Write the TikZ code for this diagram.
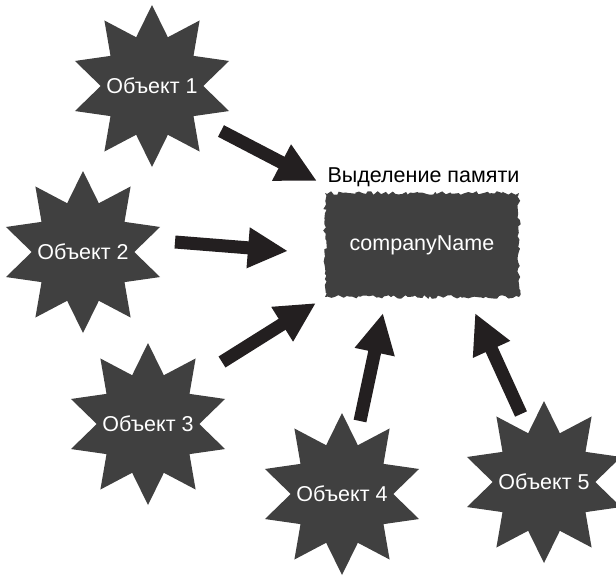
\documentclass[tikz,border=0pt]{standalone}
\usepackage{fontspec}
\setmainfont{Liberation Sans}
\usetikzlibrary{shapes.geometric,arrows.meta,decorations.pathmorphing}
\definecolor{starfill}{HTML}{404040}
\definecolor{arrowc}{HTML}{231F20}
\newcommand{\zw}[1]{\makebox[0pt]{#1}}
\tikzset{
  obj/.style={shape=star, star points=10, star point ratio=1.58, minimum size=162pt,
    inner sep=0pt, fill=starfill, text=white, font=\fontsize{21.5}{24}\selectfont},
  mem/.style={rectangle, minimum width=194pt, minimum height=104pt, fill=starfill,
    text=white, font=\fontsize{21.5}{24}\selectfont, decorate,
    decoration={random steps, segment length=3pt, amplitude=1.8pt}},
  lbl/.style={font=\fontsize{21.5}{24}\selectfont, text=black, inner sep=0pt},
  bigarrow/.style={draw=arrowc, line width=13pt, -{Triangle[length=40pt,width=38pt]}}
}
\begin{document}
\pgfmathsetseed{7}
\begin{tikzpicture}[x=1pt,y=-1pt]
\useasboundingbox (0,0) rectangle (616,576);
\node[obj] (o1) at (152,86) {\zw{Объект 1}};
\node[obj] (o2) at (83,252) {\zw{Объект 2}};
\node[obj] (o3) at (148,424) {\zw{Объект 3}};
\node[obj] (o4) at (342,494) {\zw{Объект 4}};
\node[obj] (o5) at (544,482) {\zw{Объект 5}};
\node[mem] (mem) at (422,245) {companyName};
\node[lbl, anchor=base] (title) at (423.5,182) {Выделение памяти};
\coordinate (s1) at (221,131); \coordinate (e1) at (317,181);
\coordinate (s2) at (175,242); \coordinate (e2) at (288,251);
\coordinate (s3) at (222,362); \coordinate (e3) at (316,303);
\coordinate (s4) at (360,421); \coordinate (e4) at (383,313);
\coordinate (s5) at (521,414); \coordinate (e5) at (475,313);
\draw[bigarrow] (s1) -- (e1);
\draw[bigarrow] (s2) -- (e2);
\draw[bigarrow] (s3) -- (e3);
\draw[bigarrow] (s4) -- (e4);
\draw[bigarrow] (s5) -- (e5);
\end{tikzpicture}
\end{document}
